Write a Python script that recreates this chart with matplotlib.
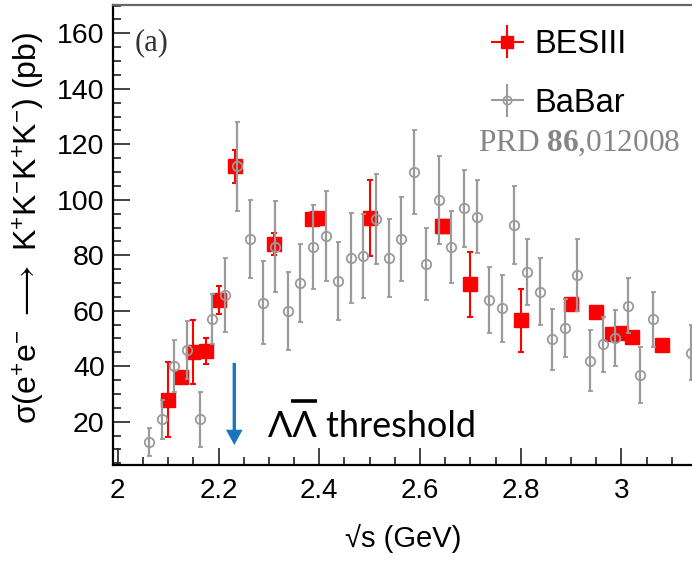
import numpy as np
import matplotlib
matplotlib.use("Agg")
import matplotlib.pyplot as plt
from matplotlib.ticker import MultipleLocator
from matplotlib.lines import Line2D

plt.rcParams['font.family'] = ['Liberation Sans', 'DejaVu Sans']
plt.rcParams['mathtext.fontset'] = 'custom'
plt.rcParams['mathtext.rm'] = 'Liberation Sans'
plt.rcParams['mathtext.it'] = 'Liberation Sans:italic'
plt.rcParams['mathtext.bf'] = 'Liberation Serif:bold'
plt.rcParams['mathtext.fallback'] = 'stixsans'

# ---------------- data ----------------
bes_E = [2.1000, 2.1250, 2.1500, 2.1750, 2.2000, 2.2324, 2.3094, 2.3864, 2.3960,
         2.5000, 2.6444, 2.6464, 2.7000, 2.8000, 2.9000, 2.9500, 2.9810, 3.0000,
         3.0200, 3.0800]
bes_sigma = [28.0, 36.0, 45.0, 45.5, 64.0, 112.0, 84.0, 93.0, 93.5,
             93.5, 90.5, 90.5, 69.5, 56.5, 62.5, 59.5, 51.5, 52.0,
             50.5, 47.5]
bes_err = [13.4, 2.0, 11.5, 4.8, 5.0, 6.0, 4.0, 2.0, 2.0,
           13.8, 2.0, 2.0, 11.6, 11.2, 1.5, 1.5, 1.5, 1.5,
           1.5, 1.5]

babar_E = [2.0625, 2.0875, 2.1125, 2.1375, 2.1625, 2.1875, 2.2125, 2.2375,
           2.2625, 2.2875, 2.3125, 2.3375, 2.3625, 2.3875, 2.4125, 2.4375,
           2.4625, 2.4875, 2.5125, 2.5375, 2.5625, 2.5875, 2.6125, 2.6375,
           2.6625, 2.6875, 2.7125, 2.7375, 2.7625, 2.7875, 2.8125, 2.8375,
           2.8625, 2.8875, 2.9125, 2.9375, 2.9625, 2.9875, 3.0125, 3.0375,
           3.0625, 3.1375]
babar_sigma = [12.7, 20.9, 40.1, 45.9, 20.9, 56.9, 65.7, 112.0,
               85.8, 62.9, 83.1, 59.9, 69.9, 83.1, 86.9, 70.8,
               78.9, 79.8, 93.0, 78.9, 85.9, 109.9, 76.9, 99.9,
               82.9, 96.9, 93.9, 63.9, 60.9, 90.9, 73.9, 66.9,
               49.8, 53.9, 72.9, 41.9, 47.9, 50.1, 61.8, 36.8,
               56.9, 44.9]
babar_err = [5.2, 7.0, 9.3, 10.4, 9.9, 9.0, 13.2, 16.0,
             14.1, 15.0, 16.3, 14.1, 14.1, 15.1, 16.1, 14.1,
             16.2, 15.1, 16.2, 14.1, 15.2, 15.1, 13.0, 16.0,
             13.0, 14.0, 13.2, 12.0, 12.0, 14.0, 12.0, 12.0,
             11.0, 10.5, 13.0, 11.0, 10.0, 10.0, 10.0, 10.0,
             10.0, 10.0]

threshold_E = 2.2313
xticks = [2.0, 2.2, 2.4, 2.6, 2.8, 3.0]
xtick_labels = ['2', '2.2', '2.4', '2.6', '2.8', '3']
yticks = [20, 40, 60, 80, 100, 120, 140, 160]

# ---------------- figure ----------------
W, H = 692, 562
fig = plt.figure(figsize=(W / 100, H / 100), dpi=100)
ax = fig.add_axes([113 / W, (H - 465) / H, 1 - 113 / W, 460 / H])
ax.set_xlim(1.9905, 3.140)
ax.set_ylim(4.4, 170.2)

RED = '#ff0000'
GRAY = '#9a9a9a'

bes = ax.errorbar(bes_E, bes_sigma, yerr=bes_err, fmt='s', color=RED,
                  ms=9.5, mec=RED, mfc=RED, elinewidth=1.5, capsize=2,
                  capthick=1.5, zorder=3)
bab = ax.errorbar(babar_E, babar_sigma, yerr=babar_err, fmt='o', color=GRAY,
                  ms=6.8, mfc='none', mec=GRAY, mew=1.3, elinewidth=1.6,
                  capsize=1.8, capthick=1.5, zorder=4)

# legend proxies (cross style)
p_bes = ax.errorbar([np.nan], [np.nan], xerr=[1], yerr=[1], fmt='s', color=RED,
                    ms=9, elinewidth=1.5, capsize=0)
p_bab = ax.errorbar([np.nan], [np.nan], xerr=[1], yerr=[1], fmt='o', color=GRAY,
                    ms=6, mfc='none', mec=GRAY, mew=1.2, elinewidth=1.5, capsize=0)
leg = ax.legend([p_bes, p_bab], ['BESIII', 'BaBar'], loc='upper left',
                bbox_to_anchor=((496 - 113) / 579 - 0.012, (465 - 29) / 460),
                frameon=False, fontsize=23.5, handlelength=1.13,
                handletextpad=0.25, labelspacing=0.85, borderpad=0,
                borderaxespad=0)

ax.text((478 - 113) / 579, (465 - 151) / 460, r'PRD $\mathbf{86}$,012008',
        transform=ax.transAxes, family=['Liberation Serif'], fontsize=22.5,
        color='#858585', ha='left', va='baseline')
ax.text((135 - 113) / 579, (465 - 43) / 460, '(a)', transform=ax.transAxes,
        family=['Liberation Serif'], fontsize=22, color='#333333',
        ha='left', va='center')

# threshold arrow
ax.annotate('', xy=(threshold_E, 11.6), xytext=(threshold_E, 41.2),
            arrowprops=dict(facecolor='#1b75bc', edgecolor='none', width=2.4,
                            headwidth=12, headlength=11, shrink=0), zorder=5)

tx, ty = 2.2975, 14.5
tfont = dict(family=['Lato', 'DejaVu Sans'], fontsize=26)
t = ax.text(tx, ty, 'ΛΛ threshold', ha='left', va='baseline', color='black', **tfont)
fig.canvas.draw()
r = fig.canvas.get_renderer()
tmp = ax.text(tx, ty, 'Λ', ha='left', va='baseline', **tfont)
bb1 = tmp.get_window_extent(r)
tmp.remove()
tmp2 = ax.text(tx, ty, 'ΛΛ', ha='left', va='baseline', **tfont)
bb2 = tmp2.get_window_extent(r)
tmp2.remove()
x0 = bb1.x1 - 1
x1 = bb2.x1 + 1
ybar = bb1.y1 + 9
inv = fig.transFigure.inverted()
(fx0, fy), (fx1, _) = inv.transform([(x0, ybar), (x1, ybar)])
fig.add_artist(Line2D([fx0, fx1], [fy, fy], transform=fig.transFigure,
                      color='black', lw=2.6, solid_capstyle='butt'))

# axes styling
ax.set_xticks(xticks)
ax.set_xticklabels(xtick_labels)
ax.set_yticks(yticks)
ax.xaxis.set_minor_locator(MultipleLocator(0.05))
ax.yaxis.set_minor_locator(MultipleLocator(5))
ax.tick_params(which='both', direction='in', top=False, right=False,
               width=1.2, color='#222222')
ax.tick_params(which='major', length=12)
ax.tick_params(which='minor', length=6)
ax.tick_params(axis='x', which='major', labelsize=20, pad=9)
ax.tick_params(axis='y', which='major', labelsize=20.5, pad=6)
ax.spines['right'].set_visible(False)
ax.spines['left'].set_linewidth(1.6)
ax.spines['bottom'].set_linewidth(1.6)
ax.spines['top'].set_linewidth(1.6)
ax.spines['top'].set_color('#666666')

fig.text(29 / W, 1 - 228 / H,
         r'σ(e$^{+}$e$^{-}$ $\longrightarrow$ K$^{+}$K$^{-}$K$^{+}$K$^{-}$) (pb)',
         rotation=90, ha='center', va='center', fontsize=23)
fig.text(403 / W, 1 - 538 / H, '√s (GeV)', ha='center', va='center', fontsize=21)

fig.savefig('out.png', dpi=100)
